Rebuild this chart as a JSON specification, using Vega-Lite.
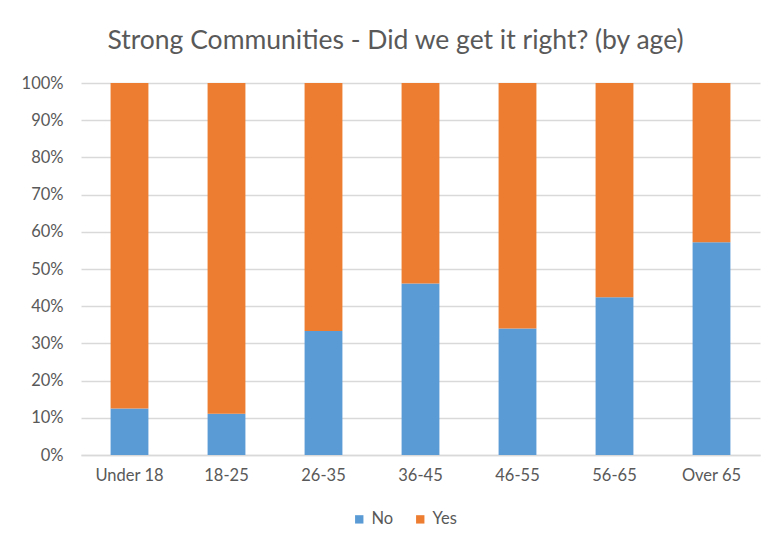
{
  "$schema": "https://vega.github.io/schema/vega-lite/v6.json",
  "width": 679,
  "height": 372,
  "autosize": {"type": "none"},
  "padding": {"left": 81, "top": 83, "right": 7, "bottom": 88},
  "background": "white",
  "title": {
    "text": "Strong Communities - Did we get it right? (by age)",
    "font": "Lato",
    "fontSize": 26.5,
    "fontWeight": "normal",
    "color": "#595959",
    "anchor": "middle",
    "dx": -25,
    "offset": 21
  },
  "data": {
    "values": [
      {"age": "Under 18", "answer": "No", "value": 12.5},
      {"age": "Under 18", "answer": "Yes", "value": 87.5},
      {"age": "18-25", "answer": "No", "value": 11.1},
      {"age": "18-25", "answer": "Yes", "value": 88.9},
      {"age": "26-35", "answer": "No", "value": 33.3},
      {"age": "26-35", "answer": "Yes", "value": 66.7},
      {"age": "36-45", "answer": "No", "value": 46.1},
      {"age": "36-45", "answer": "Yes", "value": 53.9},
      {"age": "46-55", "answer": "No", "value": 34.0},
      {"age": "46-55", "answer": "Yes", "value": 66.0},
      {"age": "56-65", "answer": "No", "value": 42.4},
      {"age": "56-65", "answer": "Yes", "value": 57.6},
      {"age": "Over 65", "answer": "No", "value": 57.2},
      {"age": "Over 65", "answer": "Yes", "value": 42.8}
    ]
  },
  "mark": {"type": "bar"},
  "encoding": {
    "x": {
      "field": "age",
      "type": "nominal",
      "sort": ["Under 18", "18-25", "26-35", "36-45", "46-55", "56-65", "Over 65"],
      "scale": {"paddingInner": 0.61, "paddingOuter": 0.305},
      "axis": {
        "title": null,
        "labelAngle": 0,
        "labelFont": "Lato",
        "labelFontSize": 16.5,
        "labelColor": "#595959",
        "labelPadding": 12,
        "ticks": false,
        "domain": true,
        "domainColor": "#D9D9D9",
        "domainWidth": 1.5,
        "grid": false
      }
    },
    "y": {
      "field": "value",
      "type": "quantitative",
      "stack": "normalize",
      "scale": {"domain": [0, 1]},
      "axis": {
        "title": null,
        "format": ".0%",
        "values": [0, 0.1, 0.2, 0.3, 0.4, 0.5, 0.6, 0.7, 0.8, 0.9, 1],
        "labelOverlap": false,
        "labelFont": "Lato",
        "labelFontSize": 16.5,
        "labelColor": "#595959",
        "labelPadding": 18,
        "ticks": false,
        "domain": false,
        "grid": true,
        "gridColor": "#D9D9D9",
        "gridWidth": 1.5
      }
    },
    "color": {
      "field": "answer",
      "type": "nominal",
      "scale": {"domain": ["No", "Yes"], "range": ["#5B9BD5", "#ED7D31"]},
      "legend": {
        "title": null,
        "orient": "none",
        "direction": "horizontal",
        "legendX": 270,
        "legendY": 428,
        "symbolType": "square",
        "symbolSize": 70,
        "symbolStrokeWidth": 0,
        "labelFont": "Lato",
        "labelFontSize": 16.5,
        "labelColor": "#595959",
        "labelOffset": 4,
        "columnPadding": 18
      }
    },
    "order": {"field": "answer", "sort": "ascending"}
  },
  "config": {"view": {"stroke": null}}
}
